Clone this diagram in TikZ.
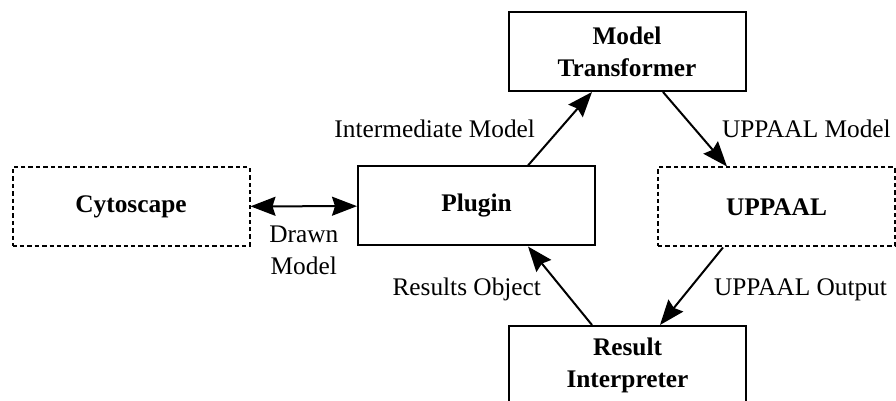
\documentclass[tikz,border=0pt]{standalone}
\usepackage{fontspec}
\setmainfont{Liberation Serif}
\usetikzlibrary{arrows.meta, positioning}

\begin{document}
\begin{tikzpicture}[x=0.5pt, y=-0.5pt,
            >={Stealth[length=12.5pt, width=9.5pt, inset=1.5pt]},
            font=\fontsize{12.67}{16}\selectfont,
            block/.style={draw, line width=1pt, minimum width=118.5pt, minimum height=39.5pt,
                align=center, font=\fontsize{12.67}{16}\selectfont\bfseries},
            external/.style={block, dash pattern=on 2.2pt off 1.5pt},
            flow/.style={->, line width=1pt},
            flow label/.style={inner sep=0pt, align=center}]
            \useasboundingbox (0, 0) rectangle (896, 401);

            \node[external] (cytoscape) at (131, 206.5) {Cytoscape};
            \node[block] (plugin) at (476.5, 206) {Plugin};
            \node[block] (transformer) at (627, 51.5) {Model\\Transformer};
            \node[external] (uppaal) at (776.5, 207) {UPPAAL};
            \node[block] (interpreter) at (627.5, 365.5) {Result\\Interpreter};

            \draw[<->, line width=1pt] (cytoscape) -- (plugin)
                node[midway, anchor=north, yshift=-9.5pt, flow label] {Drawn\\Model};
            \draw[flow] ([xshift=25.75pt] plugin.north) -- ([xshift=-17.5pt] transformer.south)
                node[midway, left=12pt, flow label] {Intermediate Model};
            \draw[flow] ([xshift=18pt] transformer.south) -- ([xshift=-24.75pt] uppaal.north)
                node[midway, right=13pt, flow label] {UPPAAL Model};
            \draw[flow] ([xshift=-26.75pt] uppaal.south) -- ([xshift=16.25pt] interpreter.north)
                node[midway, right=10.75pt, yshift=-2pt, flow label] {UPPAAL Output};
            \draw[flow] ([xshift=-17.75pt] interpreter.north) -- ([xshift=25.75pt] plugin.south)
                node[midway, left=9pt, yshift=-2pt, flow label] {Results Object};
        \end{tikzpicture}
\end{document}
